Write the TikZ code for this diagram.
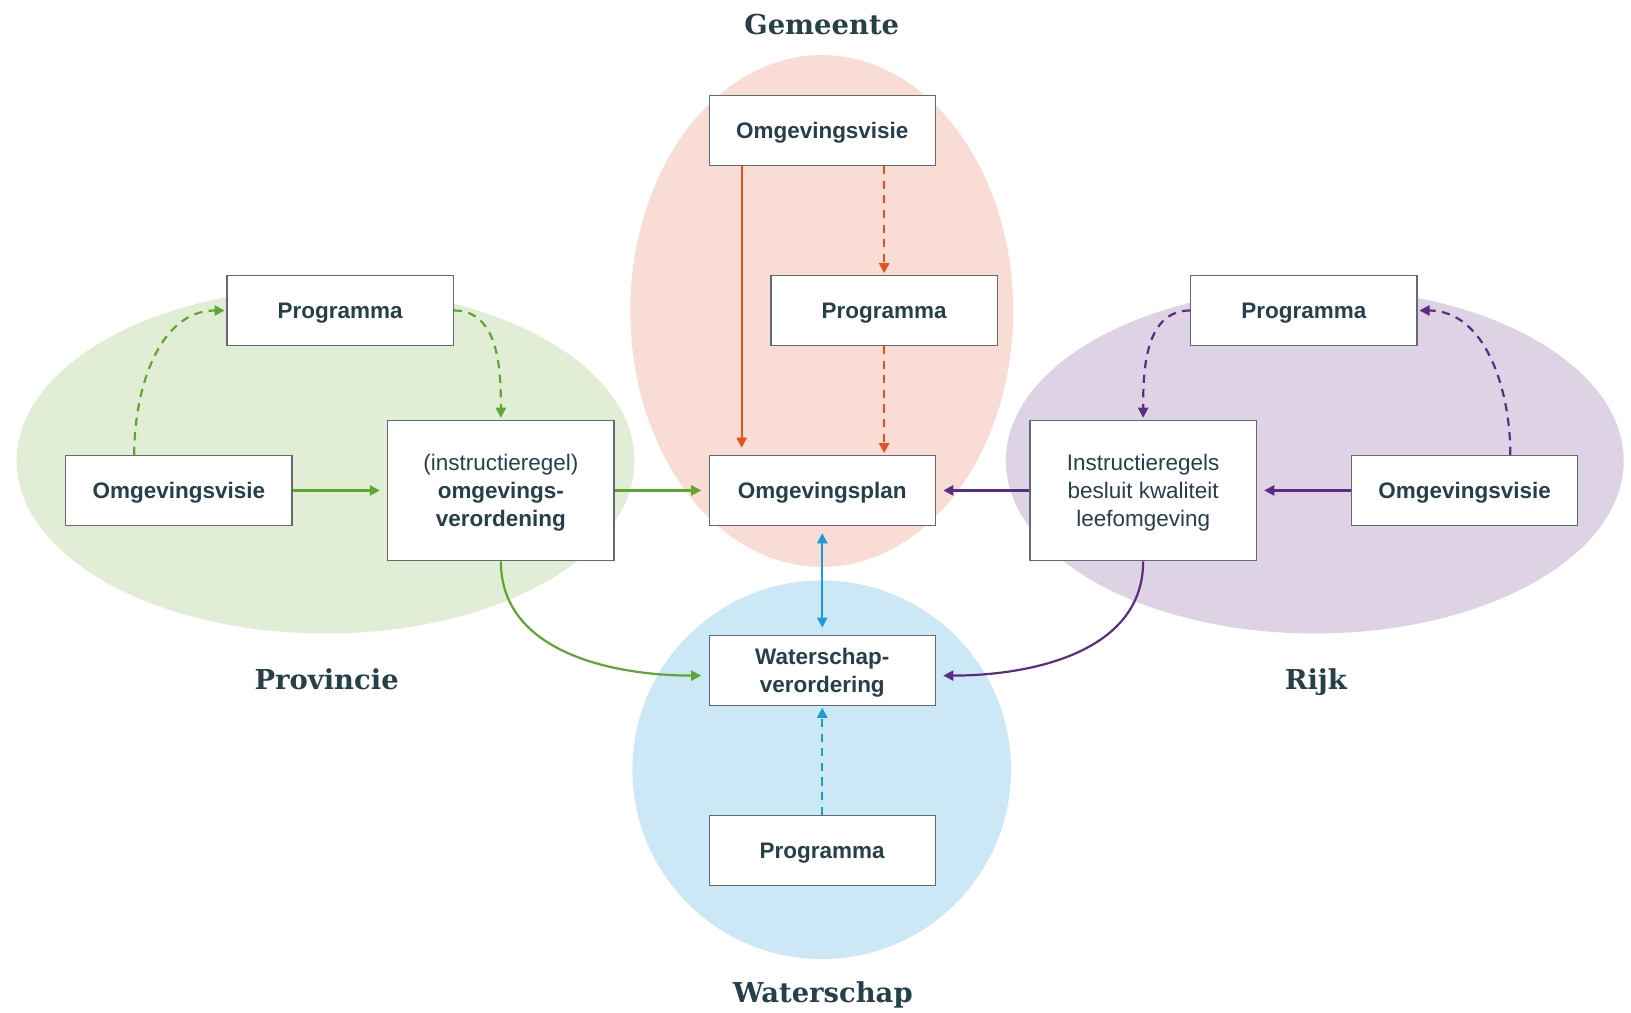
\documentclass[tikz,border=0pt]{standalone}
\usepackage{fontspec}
\setmainfont{Liberation Sans}
\newfontfamily\kopfont{DejaVu Serif}
\usetikzlibrary{arrows.meta}

\definecolor{gemeentevlak}{HTML}{F9DCD3}
\definecolor{gemeenterood}{HTML}{E8501E}
\definecolor{provincievlak}{HTML}{E1EDD5}
\definecolor{provinciegroen}{HTML}{5DA631}
\definecolor{rijkvlak}{HTML}{DED3E5}
\definecolor{rijkpaars}{HTML}{5B2C83}
\definecolor{watervlak}{HTML}{CCE8F6}
\definecolor{waterblauw}{HTML}{1A9AD7}
\definecolor{tekst}{HTML}{26404A}
\definecolor{rand}{HTML}{5F6B70}

\begin{document}
\begin{tikzpicture}[x=0.02cm, y=-0.02cm]
				\tikzstyle{box}=[draw=rand, line width=0.7pt, fill=white, minimum width=4.35cm, minimum height=1.34cm, inner sep=0pt, text depth=0pt, align=center, text=tekst, font=\fontsize{12.3}{15.4}\selectfont]
				\tikzstyle{hogebox}=[box, minimum height=2.7cm]
				\tikzstyle{kop}=[anchor=base, text=tekst, font=\kopfont\bfseries\fontsize{15}{18}\selectfont]
				\tikzstyle{pijl}=[-{Triangle[length=5.5pt,width=5.5pt]}, line width=1.2pt, shorten >=4pt]
				\tikzstyle{stippel}=[pijl, dash pattern=on 4.5pt off 3.5pt, shorten >=1pt]

				\useasboundingbox (0,0) rectangle (1568,973);

				\fill[provincievlak] (313,443) ellipse [x radius=297, y radius=166];
				\fill[rijkvlak] (1264,443) ellipse [x radius=297, y radius=166];
				\fill[gemeentevlak] (790,299) ellipse [x radius=184, y radius=246];
				\fill[watervlak] (790,740) ellipse [x radius=182, y radius=182];

				\node[kop] (gemeente) at (790,33) {Gemeente};
				\node[kop] (provincie) at (314,663) {Provincie};
				\node[kop] (rijk) at (1265,663) {Rijk};
				\node[kop] (waterschap) at (791,964) {Waterschap};

				\node[box] (gvisie) at (790.5,125.5) {\textbf{Omgevingsvisie}};
				\node[box] (gprog) at (850,298.5) {\textbf{Programma}};
				\node[box] (gplan) at (790.5,471.5) {\textbf{Omgevingsplan}};

				\node[box] (pprog) at (327,298.5) {\textbf{Programma}};
				\node[box] (pvisie) at (172,471.5) {\textbf{Omgevingsvisie}};
				\node[hogebox] (pverord) at (481.5,471.5) {(instructieregel)\\\textbf{omgevings-}\\\textbf{verordening}};

				\node[box] (rprog) at (1253.5,298.5) {\textbf{Programma}};
				\node[hogebox] (rinstr) at (1099,471.5) {Instructieregels\\besluit kwaliteit\\leefomgeving};
				\node[box] (rvisie) at (1408,471.5) {\textbf{Omgevingsvisie}};

				\node[box] (wverord) at (790.5,644.5) {\textbf{Waterschap-}\\\textbf{verordering}};
				\node[box] (wprog) at (790.5,817.5) {\textbf{Programma}};

				\draw[pijl, gemeenterood] ([xshift=-1.55cm]gvisie.south) -- ([xshift=-1.55cm]gplan.north);
				\draw[stippel, gemeenterood] (gprog.north |- gvisie.south) -- (gprog.north);
				\draw[stippel, gemeenterood] (gprog.south) -- (gprog.south |- gplan.north);

				\draw[pijl, provinciegroen] (pvisie) -- (pverord);
				\draw[pijl, provinciegroen] (pverord) -- (gplan);
				\draw[stippel, provinciegroen] ([xshift=-0.86cm]pvisie.north) to[out=90, in=180] (pprog.west);
				\draw[stippel, provinciegroen] (pprog.east) to[out=0, in=90] (pverord.north);
				\draw[pijl, provinciegroen] (pverord.south) to[out=-90, in=180] ([yshift=-0.1cm]wverord.west);

				\draw[pijl, rijkpaars] (rvisie) -- (rinstr);
				\draw[pijl, rijkpaars] (rinstr) -- (gplan);
				\draw[stippel, rijkpaars] ([xshift=0.88cm]rvisie.north) to[out=90, in=0] (rprog.east);
				\draw[stippel, rijkpaars] (rprog.west) to[out=180, in=90] (rinstr.north);
				\draw[pijl, rijkpaars] (rinstr.south) to[out=-90, in=0] ([yshift=-0.1cm]wverord.east);

				\draw[pijl, waterblauw, {Triangle[length=5.5pt,width=5.5pt]}-{Triangle[length=5.5pt,width=5.5pt]}, shorten <=4pt] (gplan) -- (wverord);
				\draw[stippel, waterblauw] (wprog) -- (wverord);
\end{tikzpicture}
\end{document}
